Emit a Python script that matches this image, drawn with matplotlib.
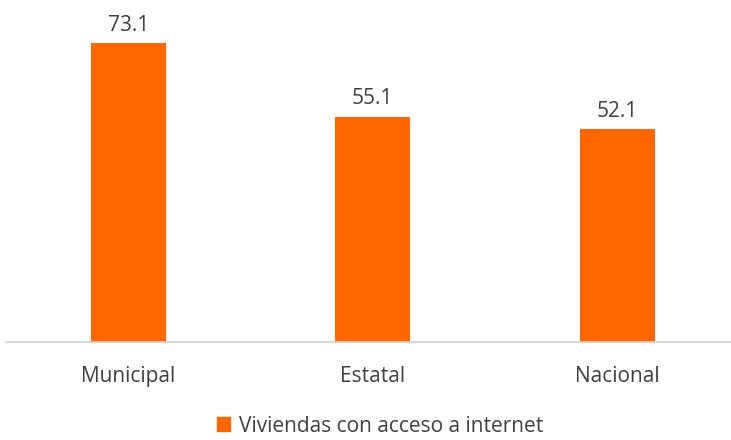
import matplotlib
matplotlib.use("Agg")
import matplotlib.pyplot as plt
from matplotlib.patches import Patch

categories = ["Municipal", "Estatal", "Nacional"]
values = [73.1, 55.1, 52.1]
series_name = "Viviendas con acceso a internet"

W, H = 731, 440
fig = plt.figure(figsize=(W/100, H/100), dpi=100)
plt.rcParams['font.family'] = ['Open Sans', 'DejaVu Sans']
FS = 15
TC = "#404040"

left, right, bottom, top = 6, 6 + 3*244.5, 342, 15
ax = fig.add_axes([left/W, 1-bottom/H, (right-left)/W, (bottom-top)/H])
color = "#FF6600"
x = list(range(len(categories)))
ax.bar(x, values, width=0.307, color=color, zorder=2)
ax.set_xlim(-0.5, 2.5)
ax.set_ylim(0, 80)
for xi, v in zip(x, values):
    ax.text(xi, v + 1.8, f"{v:.1f}", ha="center", va="bottom", fontsize=FS, color=TC, clip_on=False)
for s in ["top", "right", "left"]:
    ax.spines[s].set_visible(False)
ax.spines["bottom"].set_color("#d0d0d0")
ax.spines["bottom"].set_linewidth(1.2)
ax.set_yticks([])
ax.set_xticks(x)
ax.set_xticklabels(categories, fontsize=FS, color=TC)
ax.tick_params(axis="x", length=0, pad=17)

fig.legend(handles=[Patch(color=color, label=series_name)], loc="center",
           bbox_to_anchor=(380/W, 1-426/H), frameon=False, fontsize=FS,
           handlelength=0.65, handleheight=0.65, handletextpad=0.4,
           labelcolor=TC)
fig.savefig("out.png", dpi=100)
